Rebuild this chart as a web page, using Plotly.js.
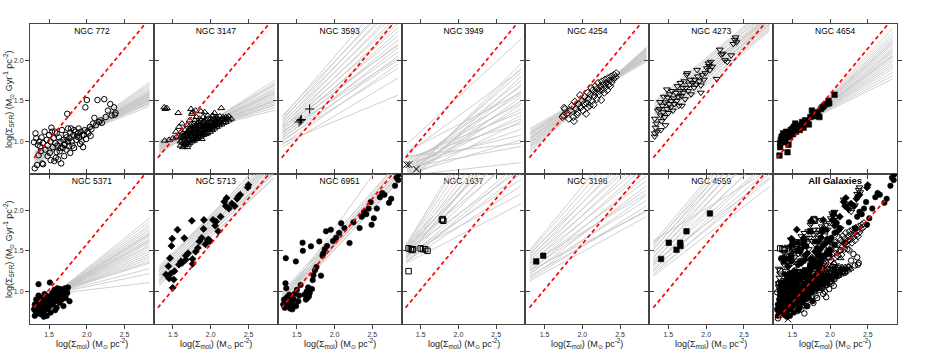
<!DOCTYPE html>
<html>
<head>
<meta charset="utf-8">
<script src="https://cdn.plot.ly/plotly-3.0.1.min.js"></script>
<style>
  html, body { margin: 0; padding: 0; background: #fff; }
  #chart { width: 926px; height: 349px; }
</style>
</head>
<body>
<div id="chart"></div>
<script>
"use strict"

// axis ranges (log Sigma_mol, log Sigma_SFR)
const xRange = [1.247, 2.887];
const yRange = [0.60, 2.445];
const xTicks = [1.5, 2.0, 2.5];
const yTicks = [1.0, 1.5, 2.0];

// reference relation (red dashed), global fit for All Galaxies panel
const redX = [1.30, 2.90];
const redY = [0.80, 2.59];
const allRedX = [1.32, 2.74];
const allRedY = [0.68, 2.13];

// ---- measured points [logSmol, logSSFR] ----
const pts772 = [[1.31,0.67],[1.34,0.71],[1.42,0.72],[1.41,0.73],[1.30,0.99],[1.32,1.10],[1.33,1.04],[1.35,0.96],[1.37,1.00],[1.38,0.94],
  [1.40,1.05],[1.42,0.98],[1.44,1.12],[1.45,0.90],[1.47,1.02],[1.48,0.95],[1.50,1.08],[1.51,0.86],[1.52,1.00],[1.54,1.12],
  [1.55,0.93],[1.56,1.04],[1.58,0.98],[1.59,0.80],[1.60,1.10],[1.61,0.95],[1.62,0.78],[1.63,1.05],[1.64,0.88],[1.65,1.00],
  [1.66,0.73],[1.67,1.14],[1.68,0.92],[1.69,1.02],[1.70,0.82],[1.71,0.97],[1.72,1.08],[1.73,0.90],[1.74,1.34],[1.75,1.00],
  [1.76,0.94],[1.77,1.04],[1.78,0.86],[1.79,1.16],[1.80,1.00],[1.81,0.95],[1.82,1.08],[1.83,0.92],[1.85,1.12],[1.86,1.02],
  [1.88,1.10],[1.90,1.05],[1.91,0.97],[1.92,1.12],[1.94,1.08],[1.95,0.93],[1.97,1.14],[1.98,1.42],[2.00,1.51],[2.02,1.10],
  [2.04,1.18],[2.06,1.15],[2.08,1.22],[2.10,1.29],[2.12,1.20],[2.14,1.51],[2.16,1.24],[2.18,1.26],[2.20,1.23],[2.23,1.52],
  [2.25,1.30],[2.28,1.38],[2.31,1.46],[2.33,1.32],[2.36,1.42],[2.38,1.35],[2.37,1.33],[1.52,0.77],[1.57,0.76],[1.48,0.82],
  [1.36,0.83],[1.39,0.88],[1.60,0.87],[1.65,0.92],[1.70,0.96],[1.73,1.05],[1.78,1.11],[1.83,1.14],[1.87,1.06],[1.93,1.00],
  [1.96,1.08],[2.01,1.12],[1.99,1.03],[2.05,1.07],[1.89,1.16],[1.75,1.16],[1.58,1.12],[1.53,1.17]];

const pts3147 = [[1.60,0.95],[1.60,1.00],[1.60,1.05],[1.63,0.93],[1.63,0.98],[1.63,1.04],[1.63,1.10],[1.66,0.97],[1.66,1.02],[1.66,1.08],
  [1.66,1.14],[1.69,0.93],[1.69,0.99],[1.69,1.05],[1.69,1.12],[1.69,1.20],[1.72,0.98],[1.72,1.03],[1.72,1.09],[1.72,1.16],
  [1.72,1.26],[1.75,1.00],[1.75,1.06],[1.75,1.12],[1.75,1.18],[1.75,1.34],[1.78,1.01],[1.78,1.07],[1.78,1.13],[1.78,1.22],
  [1.81,1.03],[1.81,1.09],[1.81,1.15],[1.81,1.20],[1.81,1.30],[1.84,1.05],[1.84,1.10],[1.84,1.16],[1.84,1.24],[1.87,1.06],
  [1.87,1.12],[1.87,1.18],[1.87,1.26],[1.87,1.37],[1.90,1.08],[1.90,1.13],[1.90,1.19],[1.90,1.30],[1.93,1.09],[1.93,1.15],
  [1.93,1.21],[1.93,1.27],[1.96,1.11],[1.96,1.17],[1.96,1.23],[1.96,1.32],[1.99,1.12],[1.99,1.18],[1.99,1.24],[2.02,1.14],
  [2.02,1.20],[2.02,1.26],[2.02,1.31],[2.05,1.16],[2.05,1.22],[2.05,1.28],[2.08,1.18],[2.08,1.23],[2.08,1.29],[2.11,1.20],
  [2.11,1.25],[2.14,1.21],[2.14,1.27],[2.14,1.41],[2.17,1.23],[2.17,1.28],[2.20,1.24],[2.20,1.30],[2.24,1.26],[2.24,1.31],
  [2.27,1.28],[1.385,1.42],[1.40,1.40],[1.42,1.41],[1.57,1.35],[1.74,1.40],[1.76,1.36],[1.39,1.01],[1.45,1.02],[1.54,1.12],
  [1.55,1.06],[1.50,1.04],[1.58,1.18],[1.62,1.22],[1.80,1.38],[1.92,1.36],[2.05,1.35],[1.70,1.01],[1.77,1.10],[1.85,1.14],
  [1.98,1.21],[2.10,1.27],[1.67,1.06],[1.83,1.07],[1.95,1.14],[1.88,1.22],[1.73,1.14],[2.00,1.28],[1.79,1.17],[1.91,1.11],
  [1.62,1.01],[1.65,0.95],[1.68,1.10],[1.71,1.06],[1.74,1.09],[1.77,1.04],[1.80,1.12],[1.83,1.19],[1.86,1.09],[1.89,1.16],
  [1.92,1.24],[1.95,1.20],[1.98,1.15],[2.01,1.23],[2.04,1.19],[2.07,1.26],[2.10,1.22],[2.13,1.24],[2.16,1.30],[2.19,1.27],
  [2.22,1.29],[1.64,1.07],[1.70,0.96],[1.76,1.15],[1.82,1.13],[1.88,1.03],[1.94,1.18],[2.00,1.17],[2.06,1.25],[1.73,1.20],
  [1.79,1.26],[1.85,1.28],[1.91,1.24],[1.97,1.28],[2.03,1.32],[1.67,0.99],[1.61,1.12],[1.86,1.21],[1.80,1.06],[2.12,1.31],
  [1.76,1.02],[1.82,1.04],[1.89,1.10],[1.95,1.10],[2.01,1.16],[2.07,1.20],[1.71,1.13],[1.78,1.19],[1.84,1.20],[1.92,1.19]];

const pts3593 = [[1.53,1.24],[1.56,1.27],[1.55,1.26],[1.67,1.40]];

const pts3949 = [[1.314,0.716],[1.345,0.716],[1.443,0.66]];

const pts4254 = [[1.74,1.30],[1.75,1.32],[1.76,1.415],[1.77,1.40],[1.80,1.35],[1.82,1.28],[1.84,1.38],[1.86,1.44],[1.88,1.30],[1.89,1.25],
  [1.90,1.49],[1.92,1.40],[1.93,1.33],[1.95,1.46],[1.97,1.57],[1.98,1.42],[2.00,1.50],[2.01,1.38],[2.03,1.55],[2.05,1.34],
  [2.06,1.47],[2.07,1.60],[2.08,1.52],[2.10,1.44],[2.11,1.58],[2.12,1.66],[2.13,1.50],[2.14,1.63],[2.15,1.45],[2.16,1.56],
  [2.17,1.68],[2.18,1.60],[2.19,1.52],[2.20,1.65],[2.21,1.72],[2.22,1.58],[2.23,1.62],[2.24,1.68],[2.25,1.51],[2.26,1.74],
  [2.27,1.64],[2.28,1.70],[2.29,1.60],[2.30,1.76],[2.31,1.67],[2.32,1.72],[2.33,1.63],[2.34,1.78],[2.35,1.70],[2.36,1.75],
  [2.37,1.68],[2.38,1.80],[2.39,1.73],[2.41,1.77],[2.42,1.82],[2.44,1.79],[2.45,1.84],[2.07,1.42],[2.02,1.46],[1.94,1.36]];

const pts4273 = [[1.318,1.06],[1.32,1.10],[1.33,1.17],[1.32,1.28],[1.34,1.22],[1.36,1.38],[1.38,1.40],[1.39,1.485],[1.40,1.32],[1.41,1.25],
  [1.42,1.44],[1.43,1.36],[1.44,1.55],[1.45,1.30],[1.46,1.48],[1.48,1.64],[1.48,1.40],[1.49,1.54],[1.50,1.35],[1.51,1.46],
  [1.52,1.58],[1.53,1.42],[1.54,1.50],[1.55,1.62],[1.56,1.38],[1.57,1.53],[1.58,1.46],[1.60,1.60],[1.61,1.50],[1.62,1.68],
  [1.63,1.55],[1.64,1.44],[1.65,1.62],[1.66,1.72],[1.67,1.56],[1.68,1.44],[1.69,1.66],[1.70,1.60],[1.71,1.74],[1.72,1.52],
  [1.73,1.66],[1.75,1.84],[1.74,1.82],[1.76,1.62],[1.78,1.70],[1.79,1.76],[1.80,1.58],[1.82,1.72],[1.84,1.66],[1.85,1.76],
  [1.87,1.70],[1.89,1.80],[1.91,1.74],[1.93,1.69],[1.95,1.82],[1.97,1.76],[1.99,1.84],[2.01,1.90],[2.03,1.96],[2.04,1.93],
  [2.05,1.88],[2.06,1.98],[2.08,1.92],[2.14,1.77],[2.18,2.13],[2.20,2.07],[2.22,2.08],[2.25,2.00],[2.28,1.98],[2.33,2.06],
  [2.36,2.20],[2.39,2.28],[2.40,2.22],[2.38,2.25],[1.93,1.60],[1.88,1.88],[1.46,1.20],[1.40,1.14],[1.35,1.12]];

const pts4654 = [[1.331,0.827],[1.437,0.868],[1.34,0.93],[1.34,0.98],[1.35,1.02],[1.36,1.06],[1.37,1.00],[1.38,1.10],[1.39,1.04],[1.40,1.08],
  [1.41,0.99],[1.42,1.12],[1.43,1.05],[1.45,0.96],[1.46,1.10],[1.47,1.06],[1.48,1.14],[1.50,1.156],[1.51,1.09],[1.52,1.18],
  [1.54,1.22],[1.55,1.12],[1.57,1.16],[1.58,1.19],[1.60,1.14],[1.62,1.20],[1.63,1.24],[1.65,1.17],[1.67,1.26],[1.70,1.24],
  [1.72,1.21],[1.74,1.30],[1.76,1.38],[1.78,1.34],[1.80,1.31],[1.82,1.33],[1.84,1.36],[1.86,1.30],[1.90,1.42],[1.92,1.44],
  [1.96,1.46],[1.98,1.50],[1.99,1.47],[2.06,1.576],[1.88,1.40]];

const pts5371 = [[1.30,0.78],[1.31,0.70],[1.31,0.84],[1.32,0.76],[1.33,0.90],[1.34,0.73],[1.35,0.82],[1.36,1.09],[1.36,0.95],[1.37,0.78],
  [1.38,0.86],[1.39,0.72],[1.40,0.92],[1.41,0.80],[1.42,0.88],[1.43,0.75],[1.44,0.97],[1.45,0.84],[1.46,0.90],[1.47,0.78],
  [1.48,0.94],[1.49,0.86],[1.50,0.81],[1.51,1.11],[1.52,0.92],[1.52,0.74],[1.53,0.88],[1.54,0.98],[1.55,0.84],[1.56,0.93],
  [1.57,1.02],[1.58,0.88],[1.59,0.96],[1.60,0.80],[1.61,1.04],[1.62,0.92],[1.63,0.99],[1.64,0.86],[1.65,1.03],[1.66,0.94],
  [1.67,0.90],[1.68,1.00],[1.69,0.82],[1.70,0.96],[1.71,1.04],[1.72,0.92],[1.73,1.01],[1.74,0.98],[1.75,1.05],[1.77,0.88],
  [1.47,0.70],[1.43,0.69],[1.58,0.77],[1.35,0.87],[1.33,0.80]];

const pts5713 = [[1.407,1.208],[1.44,1.31],[1.45,1.16],[1.46,1.41],[1.47,1.22],[1.48,1.56],[1.49,1.65],[1.496,1.045],[1.51,1.147],[1.52,1.25],
  [1.56,1.76],[1.58,1.33],[1.607,1.37],[1.65,1.657],[1.67,1.44],[1.67,1.39],[1.75,1.87],[1.76,1.40],[1.76,1.34],[1.80,1.49],
  [1.83,1.535],[1.85,1.616],[1.88,1.66],[1.905,1.77],[1.91,1.88],[1.93,1.58],[1.96,1.63],[1.97,1.64],[1.99,1.62],[2.03,1.88],
  [2.06,1.81],[2.07,1.86],[2.10,1.74],[2.13,1.92],[2.18,2.105],[2.20,2.05],[2.21,2.15],[2.24,2.02],[2.28,2.08],[2.318,2.05],
  [2.35,2.14],[2.37,2.17],[2.39,2.19],[2.49,2.28],[2.50,2.31],[1.70,1.47],[1.62,1.35]];

const pts6951 = [[1.32,0.84],[1.33,0.90],[1.34,0.80],[1.35,0.86],[1.35,1.10],[1.354,1.41],[1.36,1.04],[1.37,0.93],[1.38,0.82],[1.39,0.88],
  [1.40,0.96],[1.41,0.79],[1.42,0.85],[1.43,0.91],[1.44,0.78],[1.45,0.84],[1.46,0.90],[1.47,0.97],[1.487,1.37],[1.49,0.82],
  [1.50,1.02],[1.52,0.88],[1.53,0.95],[1.55,1.08],[1.576,1.60],[1.58,1.50],[1.60,0.96],[1.62,0.90],[1.63,1.00],[1.64,0.92],
  [1.65,1.05],[1.66,0.94],[1.67,0.98],[1.687,1.555],[1.70,1.03],[1.71,1.14],[1.72,1.20],[1.74,1.26],[1.76,1.30],[1.798,1.616],
  [1.82,1.195],[1.84,1.44],[1.85,1.47],[1.87,1.52],[1.887,1.74],[1.90,1.56],[1.95,1.76],[1.98,1.62],[2.02,1.66],[2.06,1.72],
  [2.087,1.84],[2.13,1.78],[2.198,1.596],[2.25,1.85],[2.331,1.78],[2.36,1.92],[2.39,1.98],[2.42,1.95],[2.45,2.02],[2.478,2.10],
  [2.49,1.82],[2.52,1.90],[2.56,2.02],[2.60,2.16],[2.63,2.21],[2.66,2.19],[2.72,2.09],[2.75,2.14],[2.80,2.30],[2.843,2.37],
  [2.85,2.44],[2.82,2.40]];

const pts1637 = [[1.34,1.25],[1.34,1.53],[1.37,1.52],[1.39,1.51],[1.40,1.52],[1.50,1.53],[1.53,1.52],[1.56,1.52],[1.59,1.50],
  [1.78,1.88],[1.79,1.89],[1.80,1.87]];

const pts3198 = [[1.39,1.37],[1.483,1.44]];

const pts4559 = [[1.403,1.40],[1.505,1.60],[1.607,1.514],[1.656,1.60],[1.66,1.56],[1.74,1.74],[2.05,1.96]];

// ---- fit samples: [y at start, y at end] over [xStart, xEnd] ----
const fitX772 = [1.31, 2.83];
const fit772 = [[0.872,1.434],[0.854,1.462],[0.842,1.481],[0.830,1.499],[0.825,1.509],[0.819,1.518],[0.813,1.527],[0.807,1.536],
  [0.801,1.546],[0.795,1.555],[0.789,1.564],[0.783,1.574],[0.777,1.583],[0.771,1.592],[0.766,1.602],[0.760,1.611],[0.748,1.629],
  [0.736,1.648],[0.724,1.667],[0.707,1.695],[0.880,1.470],[0.790,1.600],[0.750,1.700],[0.860,1.500],[0.720,1.730]];

const fitX3147 = [1.32, 2.85];
const fit3147 = [[1.018,1.385],[1.003,1.417],[0.989,1.448],[0.979,1.469],[0.970,1.490],[0.960,1.511],[0.951,1.532],[0.941,1.553],
  [0.931,1.574],[0.922,1.595],[0.912,1.616],[0.903,1.637],[0.893,1.658],[0.879,1.690],[0.864,1.721],[0.850,1.753],[0.990,1.500],
  [0.940,1.600],[0.900,1.700],[0.960,1.450]];

const fitX3593 = [1.31, 2.84];
const fit3593 = [[0.93,1.78],[0.96,1.95],[0.98,1.57],[1.00,2.05],[1.02,1.90],[1.04,2.15],[1.05,2.00],[1.07,2.25],[1.08,2.10],
  [1.10,2.35],[1.11,2.20],[1.13,2.45],[1.14,2.30],[1.16,2.55],[1.17,2.40],[1.19,2.65],[1.20,2.50],[1.22,2.75],[1.24,2.60],
  [1.26,2.85],[1.28,2.70],[1.30,2.95],[1.32,2.79],[1.12,2.02],[1.18,2.18]];

const fitX3949 = [1.32, 2.83];
const fit3949 = [[0.97,2.26],[0.58,0.74],[0.55,1.96],[0.58,1.90],[0.62,1.85],[0.50,1.80],[0.66,1.75],[0.56,1.70],[0.70,1.68],
  [0.60,1.62],[0.72,1.58],[0.52,1.55],[0.64,1.50],[0.75,1.47],[0.57,1.45],[0.68,1.40],[0.78,1.36],[0.62,1.32],[0.70,1.28],
  [0.55,1.25],[0.80,1.22],[0.66,1.15],[0.74,1.08],[0.60,1.02],[0.82,0.98],[0.68,0.94],[0.85,1.88],[0.88,1.60]];

const fitX4254 = [1.31, 2.85];
const fit4254 = [[0.87,2.16],[0.89,2.15],[0.91,2.14],[0.93,2.13],[0.95,2.12],[0.97,2.11],[0.99,2.10],[1.00,2.09],[1.02,2.08],
  [1.03,2.07],[1.05,2.06],[1.06,2.05],[1.08,2.04],[1.09,2.03],[1.11,2.02],[1.12,2.01],[1.14,2.00],[1.16,1.98],[0.98,2.12],
  [1.04,2.04],[0.94,2.10],[1.10,2.05]];

const fitX4273 = [1.32, 2.84];
const fit4273 = [[1.16,2.36],[1.18,2.40],[1.20,2.38],[1.22,2.44],[1.24,2.42],[1.26,2.48],[1.28,2.45],[1.30,2.52],[1.32,2.50],
  [1.34,2.55],[1.36,2.53],[1.38,2.58],[1.40,2.56],[1.42,2.62],[1.44,2.60],[1.46,2.64],[1.48,2.66],[1.50,2.68],[1.27,2.56],
  [1.35,2.45],[1.43,2.52],[1.21,2.50]];

const fitX4654 = [1.305, 2.83];
const fit4654 = [[0.89,2.39],[0.90,2.34],[0.91,2.30],[0.92,2.27],[0.93,2.24],[0.94,2.20],[0.95,2.17],[0.96,2.14],[0.97,2.10],
  [0.98,2.07],[0.99,2.04],[1.00,2.01],[1.01,1.98],[1.02,1.95],[1.03,1.92],[1.04,1.89],[1.05,1.85],[1.06,1.81],[1.07,1.77],
  [0.95,2.22],[1.00,2.05],[0.93,2.12]];

const fitX5371 = [1.29, 2.83];
const fit5371 = [[0.76,1.90],[0.77,1.86],[0.78,1.82],[0.78,1.79],[0.79,1.76],[0.80,1.73],[0.80,1.70],[0.81,1.68],[0.82,1.65],
  [0.82,1.62],[0.83,1.60],[0.84,1.57],[0.84,1.55],[0.85,1.52],[0.86,1.49],[0.86,1.46],[0.87,1.43],[0.88,1.40],[0.89,1.37],
  [0.90,1.35],[0.91,1.28],[0.92,1.22],[0.94,1.11],[0.81,1.71],[0.83,1.63]];

const fitX5713 = [1.318, 2.83];
const fit5713 = [[1.07,2.40],[1.09,2.46],[1.10,2.38],[1.12,2.50],[1.13,2.44],[1.15,2.55],[1.16,2.48],[1.18,2.58],[1.19,2.52],
  [1.21,2.62],[1.22,2.56],[1.24,2.65],[1.25,2.60],[1.27,2.68],[1.28,2.63],[1.30,2.72],[1.31,2.67],[1.14,2.60],[1.20,2.45],
  [1.26,2.75]];

const fitX6951 = [1.31, 2.865];
const fit6951 = [[0.82,2.38],[0.83,2.45],[0.85,2.36],[0.86,2.50],[0.87,2.42],[0.89,2.55],[0.90,2.46],[0.91,2.40],[0.92,2.58],
  [0.93,2.50],[0.95,2.62],[0.96,2.44],[0.97,2.55],[0.99,2.48],[1.00,2.60],[0.88,2.90],[0.94,2.36]];

const fitX1637 = [1.31, 2.83];
const fit1637 = [[1.35,2.08],[1.37,2.30],[1.38,2.45],[1.40,2.60],[1.42,2.75],[1.43,2.90],[1.45,3.05],[1.46,2.20],[1.47,3.20],
  [1.49,3.35],[1.50,2.50],[1.51,3.50],[1.53,2.70],[1.54,3.65],[1.55,2.95],[1.56,3.80],[1.57,3.10],[1.58,3.90],[1.44,2.38],
  [1.52,3.00],[1.48,2.85],[1.36,2.55],[1.41,3.15]];

const fitX3198 = [1.305, 2.847];
const fit3198 = [[1.13,1.92],[1.15,2.05],[1.17,2.18],[1.19,2.00],[1.21,2.30],[1.23,2.12],[1.25,2.42],[1.27,2.25],[1.29,2.55],
  [1.31,2.36],[1.33,2.68],[1.35,2.48],[1.37,2.80],[1.39,2.60],[1.41,2.92],[1.43,2.72],[1.45,3.02],[1.47,2.85],[1.49,3.12],
  [1.51,3.25],[1.26,1.98],[1.34,2.20]];

const fitX4559 = [1.30, 2.84];
const fit4559 = [[1.19,2.29],[1.21,2.45],[1.24,2.38],[1.26,2.60],[1.28,2.50],[1.31,2.75],[1.33,2.62],[1.36,2.90],[1.38,2.72],
  [1.41,3.00],[1.43,2.85],[1.46,3.10],[1.48,2.95],[1.51,3.18],[1.53,3.05],[1.56,3.25],[1.58,3.12],[1.60,3.29],[1.62,2.50],
  [1.35,2.40]];

// ---- panels ----
const panels = [
  {name: 'NGC 772',  pts: pts772,  fitX: fitX772,  fit: fit772,  sym: 'circle-open'},
  {name: 'NGC 3147', pts: pts3147, fitX: fitX3147, fit: fit3147, sym: 'triangle-up-open'},
  {name: 'NGC 3593', pts: pts3593, fitX: fitX3593, fit: fit3593, sym: 'cross-thin-open'},
  {name: 'NGC 3949', pts: pts3949, fitX: fitX3949, fit: fit3949, sym: 'x-thin-open'},
  {name: 'NGC 4254', pts: pts4254, fitX: fitX4254, fit: fit4254, sym: 'diamond-open'},
  {name: 'NGC 4273', pts: pts4273, fitX: fitX4273, fit: fit4273, sym: 'triangle-down-open'},
  {name: 'NGC 4654', pts: pts4654, fitX: fitX4654, fit: fit4654, sym: 'square'},
  {name: 'NGC 5371', pts: pts5371, fitX: fitX5371, fit: fit5371, sym: 'circle'},
  {name: 'NGC 5713', pts: pts5713, fitX: fitX5713, fit: fit5713, sym: 'diamond'},
  {name: 'NGC 6951', pts: pts6951, fitX: fitX6951, fit: fit6951, sym: 'circle'},
  {name: 'NGC 1637', pts: pts1637, fitX: fitX1637, fit: fit1637, sym: 'square-open'},
  {name: 'NGC 3198', pts: pts3198, fitX: fitX3198, fit: fit3198, sym: 'square'},
  {name: 'NGC 4559', pts: pts4559, fitX: fitX4559, fit: fit4559, sym: 'square'},
  {name: '<b>All Galaxies</b>', all: true}
];

const FONT = 'Liberation Sans, Arial, Helvetica, sans-serif';
const NCOL = 7;
const titleY = 2.35;
const titleX = (xRange[0] + xRange[1]) / 2;

function markerFor(sym){
  let thin = sym.indexOf('thin') >= 0;
  let open = sym.indexOf('open') >= 0;
  let tri = sym.indexOf('triangle') >= 0;
  // open symbols take their stroke colour from marker.color
  return {
    symbol: sym,
    size: thin ? 6.5 : (tri ? 6 : 5.5),
    color: '#000',
    line: {color: '#000', width: open ? 1 : 0.6}
  };
}

let traces = [];
let layout = {
  width: 926, height: 349,
  margin: {l: 30, r: 29, t: 24, b: 25},
  paper_bgcolor: '#fff', plot_bgcolor: '#fff',
  showlegend: false,
  font: {family: FONT, color: '#222'},
  annotations: []
};

panels.forEach((p, i) => {
  let k = i + 1;
  let xa = k === 1 ? 'x' : 'x' + k,
      ya = k === 1 ? 'y' : 'y' + k;
  let col = i % NCOL, row = Math.floor(i / NCOL);

  // panel title (under the lines, as in the figure)
  traces.push({
    x: [titleX], y: [titleY], text: [p.name], mode: 'text',
    textfont: {family: FONT, size: p.all ? 9.5 : 8.5, color: ['#000']},
    xaxis: xa, yaxis: ya, hoverinfo: 'skip'
  });

  if(!p.all){
    // fit samples
    let lx = [], ly = [];
    p.fit.forEach(f => {
      lx.push(p.fitX[0], p.fitX[1], null);
      ly.push(f[0], f[1], null);
    });
    traces.push({
      x: lx, y: ly, mode: 'lines',
      line: {color: '#c4c4c4', width: 0.8},
      xaxis: xa, yaxis: ya, hoverinfo: 'skip'
    });
    traces.push({
      x: p.pts.map(d => d[0]), y: p.pts.map(d => d[1]),
      mode: 'markers', marker: markerFor(p.sym),
      xaxis: xa, yaxis: ya
    });
    traces.push({
      x: redX, y: redY, mode: 'lines',
      line: {color: '#ff0000', width: 1.7, dash: '4px,3px'},
      xaxis: xa, yaxis: ya, hoverinfo: 'skip'
    });
  }else{
    panels.filter(q => !q.all).forEach(q => {
      traces.push({
        x: q.pts.map(d => d[0]), y: q.pts.map(d => d[1]),
        mode: 'markers', marker: markerFor(q.sym),
        xaxis: xa, yaxis: ya
      });
    });
    traces.push({
      x: allRedX, y: allRedY, mode: 'lines',
      line: {color: '#ff0000', width: 1.7, dash: '4px,3px'},
      xaxis: xa, yaxis: ya, hoverinfo: 'skip'
    });
  }

  let common = {
    showline: true, linecolor: '#444', linewidth: 1, mirror: 'ticks',
    ticks: 'outside', ticklen: 4, tickwidth: 1, tickcolor: '#444',
    showgrid: false, zeroline: false, fixedrange: true,
    tickfont: {family: FONT, size: 7, color: '#333'}
  };
  layout[k === 1 ? 'xaxis' : 'xaxis' + k] = Object.assign({}, common, {
    domain: [col / NCOL, (col + 1) / NCOL],
    range: xRange, anchor: ya,
    tickvals: xTicks, tickformat: '.1f',
    showticklabels: row === 1
  });
  layout[k === 1 ? 'yaxis' : 'yaxis' + k] = Object.assign({}, common, {
    domain: row === 0 ? [0.5, 1] : [0, 0.5],
    range: yRange, anchor: xa,
    tickvals: yTicks, tickformat: '.1f',
    showticklabels: col === 0
  });

  if(row === 1){
    layout.annotations.push({
      xref: 'paper', yref: 'paper', x: (col + 0.5) / NCOL, y: -0.066,
      xanchor: 'center', yanchor: 'middle', showarrow: false,
      text: 'log(Σ<sub>mol</sub>) (M<sub>⊙</sub> pc<sup>-2</sup>)',
      font: {family: FONT, size: 9, color: '#222'}
    });
  }
});

[0.75, 0.25].forEach(yy => {
  layout.annotations.push({
    xref: 'paper', yref: 'paper', x: -0.0254, y: yy,
    xanchor: 'center', yanchor: 'middle', showarrow: false, textangle: -90,
    text: 'log(Σ<sub>SFR</sub>) (M<sub>⊙</sub> Gyr<sup>-1</sup> pc<sup>-2</sup>)',
    font: {family: FONT, size: 9, color: '#222'}
  });
});

Plotly.newPlot('chart', traces, layout, {displayModeBar: false, staticPlot: true});
</script>
</body>
</html>
